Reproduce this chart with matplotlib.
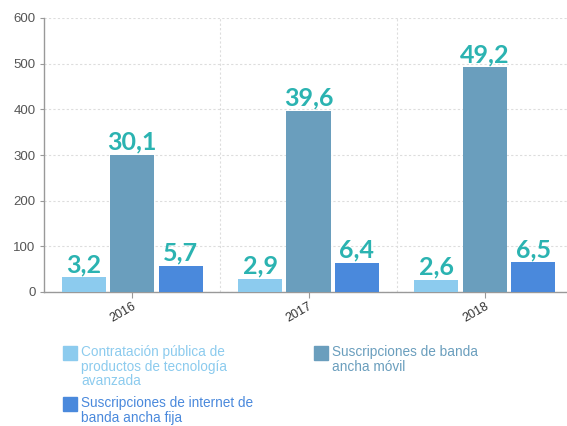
import matplotlib
matplotlib.use("Agg")
import matplotlib.pyplot as plt
import numpy as np
from matplotlib.patches import Rectangle

years = ["2016", "2017", "2018"]
series = [
    "Contratación pública de\nproductos de tecnología\navanzada",
    "Suscripciones de banda\nancha móvil",
    "Suscripciones de internet de\nbanda ancha fija",
]
contratacion = [3.2, 2.9, 2.6]
movil = [30.1, 39.6, 49.2]
fija = [5.7, 6.4, 6.5]
yticks = [0, 100, 200, 300, 400, 500, 600]

COLORS = ["#8ccbee", "#6a9ebd", "#4a89dc"]
LABEL_C = "#2bb3b1"
TICK_C = "#555555"
SCALE = 10  # bars are drawn on the 0-600 axis, labels show the raw value

W, H = 567, 426
fig = plt.figure(figsize=(W / 100, H / 100), dpi=100)
ax = fig.add_axes([44 / W, (H - 292) / H, 529 / W, 274 / H])

x = np.arange(len(years))
bw, step = 0.25, 0.275
for i, (vals, c) in enumerate(zip([contratacion, movil, fija], COLORS)):
    pos = x + (i - 1) * step
    heights = [v * SCALE for v in vals]
    ax.bar(pos, heights, width=bw, color=c, zorder=3)
    for px_, h, v in zip(pos, heights, vals):
        ax.text(px_, h + 3, f"{v:.1f}".replace(".", ","), ha="center", va="bottom",
                color=LABEL_C, fontsize=18, fontweight="bold", family="Lato")

ax.set_xlim(-0.5, 2.5)
ax.set_ylim(0, 600)
ax.set_yticks(yticks)
ax.set_xticks(x)
ax.set_xticklabels(years, rotation=30, ha="right", rotation_mode="anchor",
                   fontsize=9, color="#333333", family="Liberation Sans")
for lab in ax.get_yticklabels():
    lab.set_color(TICK_C)
    lab.set_fontsize(9.5)
    lab.set_family("Liberation Sans")
ax.tick_params(axis="y", length=3, color="#999999", pad=3)
ax.tick_params(axis="x", length=4, color="#999999", pad=2)

ax.set_xticks([0.5, 1.5], minor=True)
ax.tick_params(axis="x", which="minor", length=0)
ax.grid(axis="y", color="#dddddd", linestyle=(0, (2, 2)), linewidth=0.8, zorder=0)
ax.grid(axis="x", which="minor", color="#dddddd", linestyle=(0, (2, 2)), linewidth=0.8, zorder=0)
ax.grid(axis="x", which="major", visible=False)
for s in ["top", "right"]:
    ax.spines[s].set_visible(False)
for s in ["left", "bottom"]:
    ax.spines[s].set_color("#999999")
    ax.spines[s].set_linewidth(1.0)

# legend, laid out by hand
legend_slots = [(63, 346), (314, 346), (63, 397)]
for (lx, ly), c, name in zip(legend_slots, COLORS, series):
    fig.patches.append(Rectangle((lx / W, (H - ly - 14) / H), 14 / W, 14 / H,
                                 transform=fig.transFigure, color=c))
    fig.text((lx + 18) / W, (H - ly + 1) / H, name, ha="left", va="top",
             color=c, fontsize=9.8, family="Liberation Sans", linespacing=1.05)

fig.savefig("out.png", dpi=100)
